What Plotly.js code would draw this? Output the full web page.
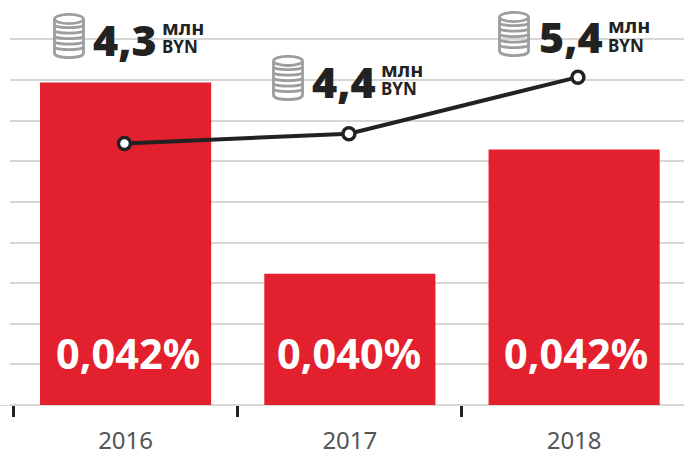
<!DOCTYPE html>
<html><head><meta charset="utf-8">
<script src="https://cdn.plot.ly/plotly-3.0.1.min.js"></script>
<style>html,body{margin:0;padding:0;background:#fff;overflow:hidden}#c{width:684px;height:450px}</style>
</head><body><div id="c"></div>
<script>
const years = ['2016','2017','2018'];
const barValues = [7.94,3.23,6.29];
const lineX = [-0.005,0.996,2.017];
const lineValues = [6.44,6.68,8.07];
const rateLabels = ['0,042%','0,040%','0,042%'];
const amountLabels = ['4,3','4,4','5,4'];
const unitTop = 'млн';
const unitBottom = 'BYN';
const W=684,H=450;
const px=x=>x/W, py=y=>1-y/405.5;
const coinSvg = (()=>{
  let s='<svg xmlns="http://www.w3.org/2000/svg" width="32" height="46" viewBox="0 0 32 46"><g fill="none" stroke="#9c9ea0" stroke-width="2.8">';
  s+='<ellipse cx="16" cy="6" rx="14.500" ry="4.600" fill="#fff"/>';
  s+='<path d="M1.500 6V40C1.500 43 8 44.600 16 44.600S30.500 43 30.500 40V6"/>';
  [12,17.500,23,28.500,34].forEach(y=>{s+=`<path d="M1.500 ${y}C1.500 ${y+3.600} 30.500 ${y+3.600} 30.500 ${y}"/>`;});
  s+='</g></svg>';
  return 'data:image/svg+xml;base64,'+btoa(s);
})();
const iconLeft=[53,272,498], iconTop=[13,55,11];
const numLeft=[91,310,537], numMid=[40,82,37];
const unitLeft=[160,379,606], unitTopY=[28,70,26], unitBotY=[47,89,46];
const rateX=[127.5,348.5,576];
const big='"Noto Sans", sans-serif';
const annotations=[];
years.forEach((y,i)=>{
  annotations.push({xref:'paper',yref:'paper',x:px(rateX[i]),y:py(353.5),xanchor:'center',yanchor:'middle',showarrow:false,text:'<b>'+rateLabels[i]+'</b>',font:{family:big,size:41.500,color:'#ffffff'}});
  annotations.push({xref:'paper',yref:'paper',x:px(numLeft[i]),y:py(numMid[i]),xanchor:'left',yanchor:'middle',showarrow:false,text:amountLabels[i],font:{family:big,size:43,weight:900,color:'#222222'}});
  annotations.push({xref:'paper',yref:'paper',x:px(unitLeft[i]),y:py(unitTopY[i]),xanchor:'left',yanchor:'middle',showarrow:false,text:'<b>'+unitTop+'</b>',font:{family:big,size:20,color:'#222222'}});
  annotations.push({xref:'paper',yref:'paper',x:px(unitLeft[i]),y:py(unitBotY[i]),xanchor:'left',yanchor:'middle',showarrow:false,text:'<b>'+unitBottom+'</b>',font:{family:big,size:17,color:'#222222'}});
});
const images=years.map((y,i)=>({source:coinSvg,xref:'paper',yref:'paper',x:px(iconLeft[i]),y:py(iconTop[i]),sizex:32/W,sizey:46/405.5,xanchor:'left',yanchor:'top',sizing:'stretch',layer:'above'}));
Plotly.newPlot('c',[
 {type:'bar',x:years,y:barValues,width:0.763,marker:{color:'#e3202e'},hoverinfo:'skip'},
 {type:'scatter',mode:'lines+markers',xaxis:'x2',x:lineX,y:lineValues,line:{color:'#222222',width:4},marker:{size:12,color:'#ffffff',line:{color:'#222222',width:3.500}},hoverinfo:'skip'}
],{
 width:W,height:H,showlegend:false,paper_bgcolor:'#fff',plot_bgcolor:'#fff',
 margin:{l:0,r:0,t:0,b:44.5,pad:0},
 xaxis:{type:'category',categoryorder:'array',categoryarray:years,range:[-0.56,2.49],domain:[0,1],tickson:'boundaries',ticks:'outside',ticklen:11,tickwidth:3,tickcolor:'#222222',showgrid:false,showline:false,zeroline:false,ticklabelstandoff:19,tickfont:{family:big,size:24,color:'#555555'}},
 xaxis2:{type:'linear',overlaying:'x',range:[-0.56,2.49],visible:false},
 yaxis:{range:[0,9.97],dtick:1,tick0:0,showticklabels:false,ticks:'',gridcolor:'#d6d6d6',gridwidth:2,zeroline:true,zerolinecolor:'#d6d6d6',zerolinewidth:2,showline:false},
 annotations,images,
 shapes:[{type:'rect',xref:'paper',yref:'paper',x0:0,x1:10/W,y0:0,y1:1,fillcolor:'#ffffff',line:{width:0},layer:'above'}]
},{displayModeBar:false,staticPlot:true});
</script></body></html>
